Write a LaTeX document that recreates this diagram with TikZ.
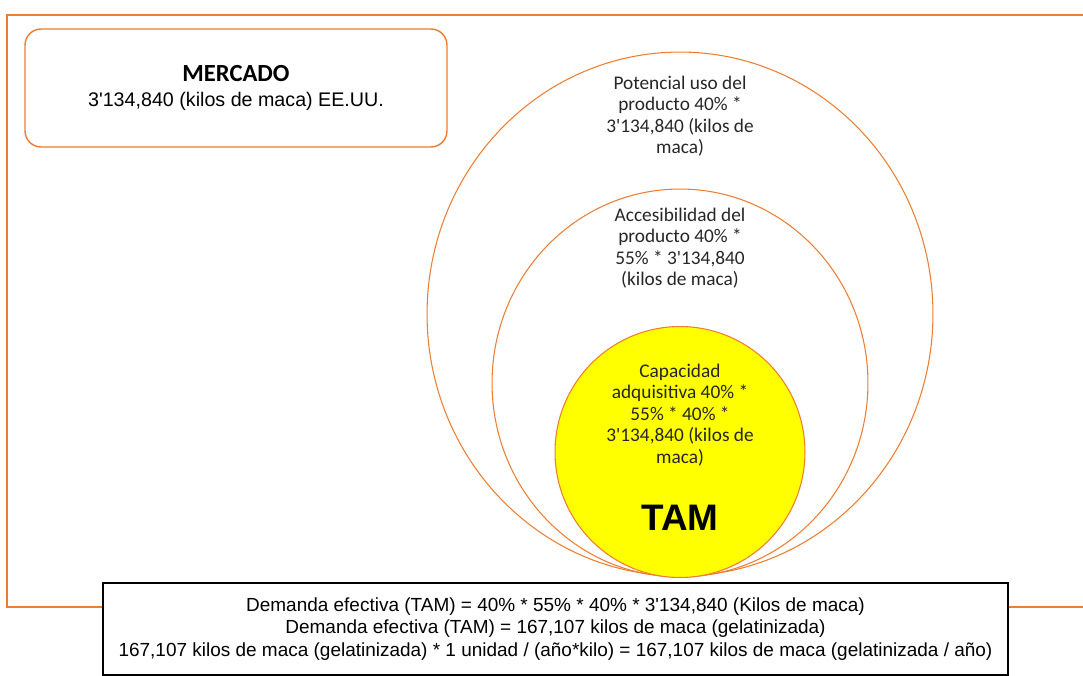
\documentclass[tikz,border=0pt]{standalone}
\usepackage{fontspec}
\setmainfont{Carlito}
\newfontfamily\arialfont{Liberation Sans}
\usetikzlibrary{shapes.geometric}
\definecolor{marco}{RGB}{237,125,49}
\definecolor{amarillo}{RGB}{255,255,0}
\newcommand{\ap}{\textquotesingle}

\begin{document}
\begin{tikzpicture}[x=0.02cm,y=-0.02cm,inner sep=0pt]
    \tikzstyle{ring}=[ellipse,draw=marco,line width=0.6pt]
    \tikzstyle{ringtext}=[align=center,font=\fontsize{11}{12.2}\selectfont,text=black!85]
    \useasboundingbox (0,0) rectangle (1083,676);

    % marco exterior
    \draw[marco,line width=0.9pt] (1083,15) -- (7,15) -- (7,607) -- (1083,607);

    \node[draw=marco,line width=0.8pt,rounded corners=0.32cm,minimum width=8.44cm,minimum height=2.36cm,align=center] (mercado) at (236,88)
        {{\fontsize{14}{14}\selectfont\bfseries MERCADO}\\[2pt]
         {\arialfont\fontsize{11.2}{12}\selectfont 3\ap134,840 (kilos de maca) EE.UU.}};

    % circulos
    \node[ring,minimum width=10.12cm,minimum height=10.48cm] (uso) at (680,314) {};
    \node[ring,minimum width=7.52cm,minimum height=7.76cm] (acceso) at (680,383) {};
    \node[ring,fill=amarillo,minimum width=5cm,minimum height=5.02cm] (capacidad) at (680,452) {};

    \node[ringtext] (usotxt) at (680,116) {Potencial uso del\\producto 40\% *\\3\ap134,840 (kilos de\\maca)};
    \node[ringtext] (accesotxt) at (680,248) {Accesibilidad del\\producto 40\% *\\55\% * 3\ap134,840\\(kilos de maca)};
    \node[ringtext] (capacidadtxt) at (680,415) {Capacidad\\adquisitiva 40\% *\\55\% * 40\% *\\3\ap134,840 (kilos de\\maca)};
    \node[font=\arialfont\bfseries\fontsize{21}{21}\selectfont] (tam) at (680,518) {TAM};

    % demanda efectiva
    \node[draw=black,fill=white,line width=1.6pt,minimum width=18.1cm,minimum height=1.84cm,align=center,
          font=\arialfont\fontsize{10.8}{13}\selectfont] (demanda) at (555.5,629)
        {Demanda efectiva (TAM) = 40\% * 55\% * 40\% * 3\ap134,840 (Kilos de maca)\\
         Demanda efectiva (TAM) = 167,107 kilos de maca (gelatinizada)\\
         167,107 kilos de maca (gelatinizada) * 1 unidad / (año*kilo) = 167,107 kilos de maca (gelatinizada / año)};
\end{tikzpicture}
\end{document}
